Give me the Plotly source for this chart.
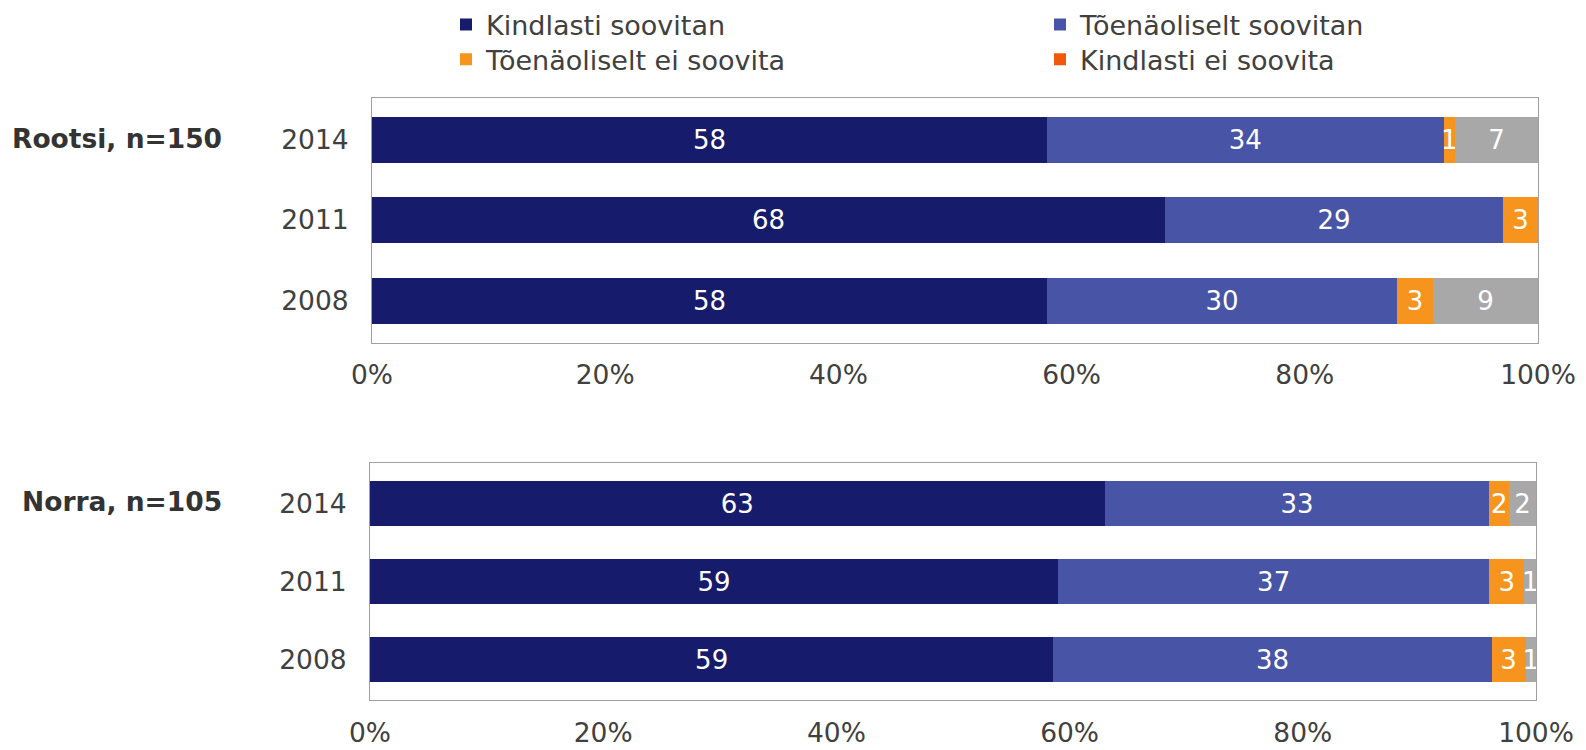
import plotly.graph_objects as go

# categories
years = ["2008", "2011", "2014"]
groups = ["Rootsi, n=150", "Norra, n=105"]
series_names = [
    "Kindlasti soovitan",
    "Tõenäoliselt soovitan",
    "Tõenäoliselt ei soovita",
    "Kindlasti ei soovita",
    "Ei oska öelda",
]
series_colors = ["#161C6B", "#4854A5", "#F7941D", "#F0580C", "#A8A8A8"]
x_ticks = [0, 20, 40, 60, 80, 100]
x_tick_labels = ["0%", "20%", "40%", "60%", "80%", "100%"]

# values per series, in order 2008, 2011, 2014
rootsi_kindlasti = [57.9, 68.0, 57.9]
rootsi_toenaoliselt = [30.0, 29.0, 34.0]
rootsi_toen_ei = [3.1, 3.0, 1.0]
rootsi_kindl_ei = [0, 0, 0]
rootsi_eos = [9.0, 0, 7.1]

norra_kindlasti = [58.6, 59.0, 63.0]
norra_toenaoliselt = [37.6, 37.0, 33.0]
norra_toen_ei = [2.9, 3.0, 1.7]
norra_kindl_ei = [0, 0, 0]
norra_eos = [0.9, 1.0, 2.3]

rootsi = [rootsi_kindlasti, rootsi_toenaoliselt, rootsi_toen_ei, rootsi_kindl_ei, rootsi_eos]
norra = [norra_kindlasti, norra_toenaoliselt, norra_toen_ei, norra_kindl_ei, norra_eos]

FONT = "DejaVu Sans, Verdana, sans-serif"
TXT = "#404040"
W, H = 1586, 750

fig = go.Figure()

# one legend per entry so the 2x2 grid can be placed exactly; gray has none
legend_of = ["legend", "legend2", "legend3", "legend4", None]

for panel, data in enumerate([rootsi, norra]):
    xa = "x" if panel == 0 else "x2"
    ya = "y" if panel == 0 else "y2"
    for i, vals in enumerate(data):
        fig.add_trace(
            go.Bar(
                y=years,
                x=vals,
                orientation="h",
                name=series_names[i],
                marker=dict(color=series_colors[i], line=dict(width=0)),
                text=[f"{v:.0f}" if v > 0 else "" for v in vals],
                textposition="inside",
                insidetextanchor="middle",
                constraintext="none",
                textfont=dict(color="white", size=26, family=FONT),
                showlegend=(panel == 0 and legend_of[i] is not None),
                legend=legend_of[i] or "legend",
                xaxis=xa,
                yaxis=ya,
                hoverinfo="skip",
            )
        )

axis_common = dict(
    showline=True,
    mirror=True,
    linecolor="#A0A0A0",
    linewidth=1,
    showgrid=False,
    zeroline=False,
    automargin=False,
    tickfont=dict(size=26.5, family=FONT, color=TXT),
    ticks="",
)

legend_pos = {
    "legend": (446, 22),
    "legend2": (1040, 22),
    "legend3": (446, 57),
    "legend4": (1040, 57),
}
legends = {}
for key, (lx, ly) in legend_pos.items():
    legends[key] = dict(
        orientation="h",
        x=lx / W,
        xanchor="left",
        y=1 - ly / H,
        yanchor="middle",
        font=dict(size=27, family=FONT, color=TXT),
        bgcolor="rgba(0,0,0,0)",
        traceorder="normal",
    )

fig.update_layout(
    width=W,
    height=H,
    margin=dict(l=0, r=0, t=0, b=0),
    paper_bgcolor="white",
    plot_bgcolor="white",
    barmode="stack",
    bargap=0.43,
    font=dict(family=FONT, size=27, color=TXT),
    xaxis=dict(
        domain=[372 / W, 1538 / W],
        range=[0, 100],
        tickvals=x_ticks,
        ticktext=x_tick_labels,
        anchor="y",
        ticklabelstandoff=9,
        **axis_common,
    ),
    yaxis=dict(
        domain=[1 - 341 / H, 1 - 95 / H],
        type="category",
        categoryorder="array",
        categoryarray=years,
        range=[-0.52, 2.52],
        anchor="x",
        ticklabelstandoff=17,
        **axis_common,
    ),
    xaxis2=dict(
        domain=[370 / W, 1536 / W],
        range=[0, 100],
        tickvals=x_ticks,
        ticktext=x_tick_labels,
        anchor="y2",
        ticklabelstandoff=9,
        **axis_common,
    ),
    yaxis2=dict(
        domain=[1 - 700 / H, 1 - 462 / H],
        type="category",
        categoryorder="array",
        categoryarray=years,
        range=[-0.52, 2.52],
        anchor="x2",
        ticklabelstandoff=17,
        **axis_common,
    ),
    **legends,
)

label_y = [136, 501]
for g, ly in zip(groups, label_y):
    fig.add_annotation(
        text=f"<b>{g}</b>",
        xref="paper",
        yref="paper",
        x=224 / W,
        y=1 - ly / H,
        xanchor="right",
        yanchor="middle",
        showarrow=False,
        font=dict(size=26.5, family=FONT, color="#333333"),
    )

# drop the browser's default 8px body margin so the figure fills the window
fig.write_html(
    "out.html",
    config={"displayModeBar": False},
    post_script="document.body.style.margin = '0';",
)
